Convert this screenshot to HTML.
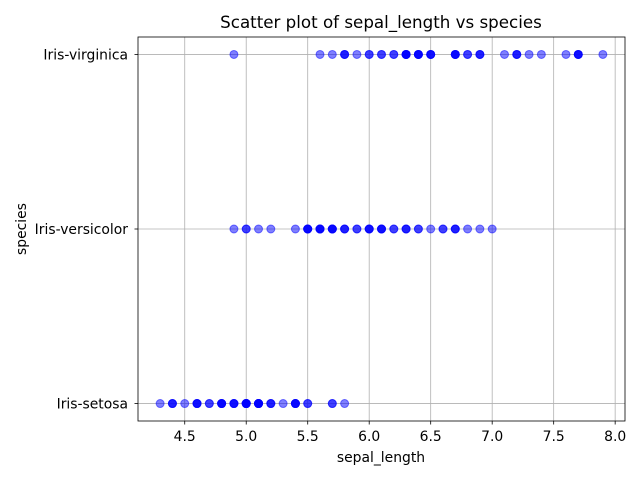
<!DOCTYPE html>
<html><head><meta charset="utf-8"><style>
body{margin:0;background:#fff}
svg text{font-family:"DejaVu Sans","Liberation Sans",sans-serif;fill:#000}
</style></head><body>
<svg id="chart" width="640" height="480" xmlns="http://www.w3.org/2000/svg">
<text x="381" y="28" font-size="16.7" text-anchor="middle">Scatter plot of sepal_length vs species</text>
<text x="381" y="462" font-size="13.9" text-anchor="middle">sepal_length</text>
<text transform="translate(26,229) rotate(-90)" font-size="13.9" text-anchor="middle">species</text>
<g id="grid"></g><g id="pts"></g><g id="axes"></g>
</svg>
<script>
const categories=["Iris-setosa","Iris-versicolor","Iris-virginica"];
const setosa=[5.1,4.9,4.7,4.6,5.0,5.4,4.6,5.0,4.4,4.9,5.4,4.8,4.8,4.3,5.8,5.7,5.4,5.1,5.7,5.1,5.4,5.1,4.6,5.1,4.8,5.0,5.0,5.2,5.2,4.7,4.8,5.4,5.2,5.5,4.9,5.0,5.5,4.9,4.4,5.1,5.0,4.5,4.4,5.0,5.1,4.8,5.1,4.6,5.3,5.0];
const versicolor=[7.0,6.4,6.9,5.5,6.5,5.7,6.3,4.9,6.6,5.2,5.0,5.9,6.0,6.1,5.6,6.7,5.6,5.8,6.2,5.6,5.9,6.1,6.3,6.1,6.4,6.6,6.8,6.7,6.0,5.7,5.5,5.5,5.8,6.0,5.4,6.0,6.7,6.3,5.6,5.5,5.5,6.1,5.8,5.0,5.6,5.7,5.7,6.2,5.1,5.7];
const virginica=[6.3,5.8,7.1,6.3,6.5,7.6,4.9,7.3,6.7,7.2,6.5,6.4,6.8,5.7,5.8,6.4,6.5,7.7,7.7,6.0,6.9,5.6,7.7,6.3,6.7,7.2,6.2,6.1,6.4,7.2,7.4,7.9,6.4,6.3,6.1,7.7,6.3,6.4,6.0,6.9,6.7,6.9,5.8,6.8,6.7,6.7,6.3,6.5,6.2,5.9];
const xTicks=[4.5,5.0,5.5,6.0,6.5,7.0,7.5,8.0];
const NS="http://www.w3.org/2000/svg";
const L=138,R=625,T=37,B=421;
const all=setosa.concat(versicolor,virginica);
const mn=Math.min(...all),mx=Math.max(...all),pad=(mx-mn)*0.05;
const x0=mn-pad,x1=mx+pad;
const xs=v=>L+(v-x0)/(x1-x0)*(R-L);
const ys=i=>B+(i+0.1)/(categories.length-1+0.2)*(T-B);
function mk(tag,attrs,parent){const e=document.createElementNS(NS,tag);for(const k in attrs)e.setAttribute(k,attrs[k]);document.getElementById(parent).appendChild(e);return e;}
xTicks.forEach(t=>{const x=xs(t);
 const g=mk('line',{x1:x,x2:x,y1:T,y2:B,stroke:'#b0b0b0','stroke-width':0.8},'grid');
 
 
 const tk=mk('line',{x1:x,x2:x,y1:B,y2:B+3.5,stroke:'#000','stroke-width':0.8},'axes');
 
 
 const tx=mk('text',{x:x,y:B+20,'font-size':13.9,'text-anchor':'middle'},'axes');tx.textContent=t.toFixed(1);
 
 
});
categories.forEach((c,i)=>{const y=ys(i);
 const g=mk('line',{x1:L,x2:R,y1:y,y2:y,stroke:'#b0b0b0','stroke-width':0.8},'grid');
 
 
 const tk=mk('line',{x1:L-3.5,x2:L,y1:y,y2:y,stroke:'#000','stroke-width':0.8},'axes');
 
 
 const tx=mk('text',{x:L-10,y:y+5,'font-size':13.9,'text-anchor':'end'},'axes');tx.textContent=c;
 
 
});
[setosa,versicolor,virginica].forEach((arr,i)=>arr.forEach(v=>{
 const p=mk('circle',{cx:xs(v),cy:ys(i),r:4,fill:'blue','fill-opacity':0.5,stroke:'blue','stroke-opacity':0.5,'stroke-width':1},'pts');
 
 
}));
const f=mk('rect',{x:L,y:T,width:R-L,height:B-T,fill:'none',stroke:'#000','stroke-width':0.8},'axes');


</script>
</body></html>
